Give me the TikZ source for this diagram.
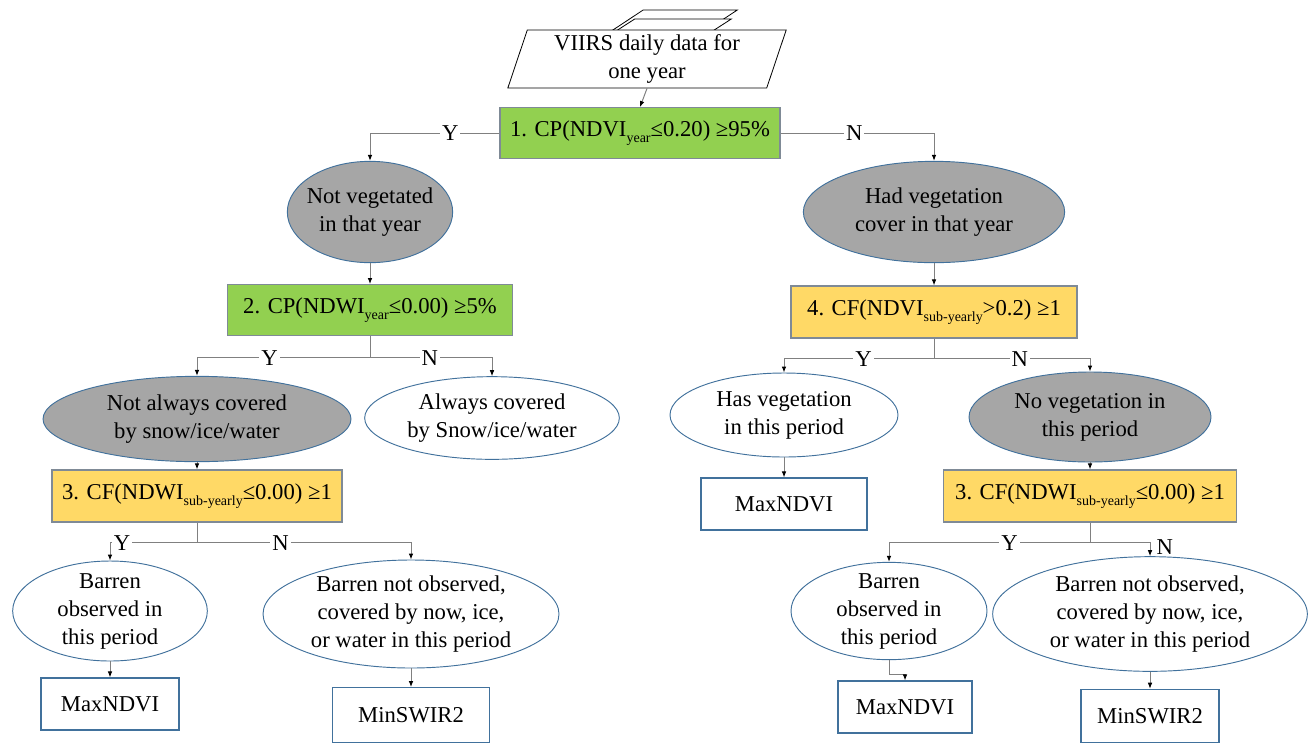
\documentclass[tikz,border=0pt]{standalone}
\usepackage{fontspec}
\setmainfont{Liberation Serif}
\usepackage{xcolor}
\usepackage{tikz}
\usetikzlibrary{shapes.geometric, arrows.meta, positioning, calc}
\definecolor{cpfill}{HTML}{92D050}
\definecolor{cffill}{HTML}{FFD966}
\definecolor{celldraw}{HTML}{41719C}
\definecolor{testdraw}{HTML}{7F8A96}
\definecolor{greyfill}{HTML}{A6A6A6}
\definecolor{linegrey}{HTML}{808080}
\newcommand{\lowtxt}[1]{\raisebox{-4pt}{\fontsize{10.5}{10.5}\selectfont #1}}
\tikzset{
  txt/.style={align=center, font=\fontsize{17}{21}\selectfont},
  blk/.style={txt, rectangle, inner sep=2pt, line width=0.9pt},
  cpbox/.style={blk, draw=testdraw, fill=cpfill, minimum height=38pt},
  cfbox/.style={blk, draw=testdraw, fill=cffill, minimum height=39pt},
  endbox/.style={blk, draw=celldraw, fill=white, minimum height=39pt},
  cell/.style={ellipse, draw=celldraw, line width=0.7pt, inner sep=0pt},
  greyell/.style={cell, fill=greyfill},
  whiteell/.style={cell, fill=white},
  sheet/.style={trapezium, trapezium left angle=74, trapezium right angle=106, trapezium stretches=true, draw=black, line width=0.6pt, fill=white, inner sep=2pt, txt},
  yn/.style={txt, fill=white, inner sep=1.5pt},
  arr/.style={draw=linegrey, line width=0.75pt, -{Latex[length=4.5pt, width=3.5pt, black]}},
}
\begin{document}
\begin{tikzpicture}[x=0.75pt, y=-0.75pt]
  \useasboundingbox (0,0) rectangle (1308,743);
  % input stack
  \node[sheet, minimum width=116pt, minimum height=30pt] (stack3) at (660,30) {\strut};
  \node[sheet, minimum width=119pt, minimum height=30pt] (stack2) at (652,39) {\strut};
  \node[sheet, minimum width=209pt, minimum height=43.5pt] (data) at (647,59) {VIIRS daily data for\\one year};
  % tests
  \node[cpbox, minimum width=210pt] (t1) at (640,133) {1. CP(NDVI\lowtxt{year}≤0.20) ≥95\%};
  \node[cpbox, minimum width=214pt] (t2) at (370,310) {2. CP(NDWI\lowtxt{year}≤0.00) ≥5\%};
  \node[cfbox, minimum width=214.5pt] (t4) at (934,312) {4. CF(NDVI\lowtxt{sub-yearly}>0.2) ≥1};
  \node[cfbox, minimum width=217.5pt] (t3l) at (197,496) {3. CF(NDWI\lowtxt{sub-yearly}≤0.00) ≥1};
  \node[cfbox, minimum width=220pt] (t3r) at (1090,496) {3. CF(NDWI\lowtxt{sub-yearly}≤0.00) ≥1};
  % states
  \node[greyell, minimum width=124pt, minimum height=76pt, label={[txt]center:Not vegetated\\in that year}] (veg0) at (370,212) {};
  \node[greyell, minimum width=196pt, minimum height=76pt, label={[txt]center:Had vegetation\\cover in that year}] (veg1) at (934,212) {};
  \node[greyell, minimum width=231pt, minimum height=64pt, label={[txt]center:Not always covered\\by snow/ice/water}] (snow0) at (197,419) {};
  \node[whiteell, minimum width=191pt, minimum height=62pt, label={[txt]center:Always covered\\by Snow/ice/water}] (snow1) at (492,418) {};
  \node[whiteell, minimum width=171pt, minimum height=63pt, label={[txt]center:Has vegetation\\in this period}] (hasveg) at (784,415) {};
  \node[greyell, minimum width=181.5pt, minimum height=67.5pt, label={[txt]center:No vegetation in\\this period}] (noveg) at (1090,417) {};
  \node[whiteell, minimum width=146pt, minimum height=75pt, label={[txt]center:Barren\\observed in\\this period}] (barl) at (110,611) {};
  \node[whiteell, minimum width=222pt, minimum height=81pt, label={[txt]center:Barren not observed,\\covered by now, ice,\\or water in this period}] (nobarl) at (411,614) {};
  \node[whiteell, minimum width=147pt, minimum height=73pt, label={[txt]center:Barren\\observed in\\this period}] (barr) at (889,611) {};
  \node[whiteell, minimum width=236pt, minimum height=86pt, label={[txt]center:Barren not observed,\\covered by now, ice,\\or water in this period}] (nobarr) at (1150,614) {};
  % composites
  \node[endbox, minimum width=103.5pt] (maxl) at (110,704) {MaxNDVI};
  \node[endbox, minimum width=118pt, minimum height=41pt] (minl) at (411,715) {MinSWIR2};
  \node[endbox, minimum width=124.5pt] (maxm) at (784,504) {MaxNDVI};
  \node[endbox, minimum width=100.5pt] (maxr) at (905,707) {MaxNDVI};
  \node[endbox, minimum width=103.5pt, minimum height=40pt] (minr) at (1150,716) {MinSWIR2};
  % connectors
  \draw[arr] (data.south) -- (t1.north);
  \draw[arr] (t1.west) -| (veg0.north) node[yn, pos=0.19] {Y};
  \draw[arr] (t1.east) -| (veg1.north) node[yn, pos=0.24] {N};
  \draw[arr] (veg0.south) -- (t2.north);
  \draw[arr] (veg1.south) -- (t4.north);
  \draw[arr] (t2.south) -- ++(0,22) -| (snow0.north) node[yn, pos=0.29] {Y};
  \draw[arr] (t2.south) -- ++(0,22) -| (snow1.north) node[yn, pos=0.245] {N};
  \draw[arr] (snow0.south) -- (t3l.north);
  \draw[arr] (t4.south) -- ++(0,20) -| (hasveg.north) node[yn, pos=0.235] {Y};
  \draw[arr] (t4.south) -- ++(0,20) -| (noveg.north) node[yn, pos=0.275] {N};
  \draw[arr] (hasveg.south) -- (maxm.north);
  \draw[arr] (noveg.south) -- (t3r.north);
  \draw[arr] (t3l.south) -- ++(0,20) -| (barl.north) node[yn, pos=0.43] {Y};
  \draw[arr] (t3l.south) -- ++(0,20) -| (nobarl.north) node[yn, pos=0.195] {N};
  \draw[arr] (t3r.south) -- ++(0,20) -| (barr.north) node[yn, pos=0.2] {Y};
  \draw[arr] (t3r.south) -- ++(0,20) -| (nobarr.north) node[yn, pos=0.5, xshift=11pt, yshift=-3pt] {N};
  \draw[arr] (barl.south) -- (maxl.north);
  \draw[arr] (nobarl.south) -- (minl.north);
  \draw[arr] (barr.south) -- ++(0,14) -| (maxr.north);
  \draw[arr] (nobarr.south) -- (minr.north);
\end{tikzpicture}
\end{document}
